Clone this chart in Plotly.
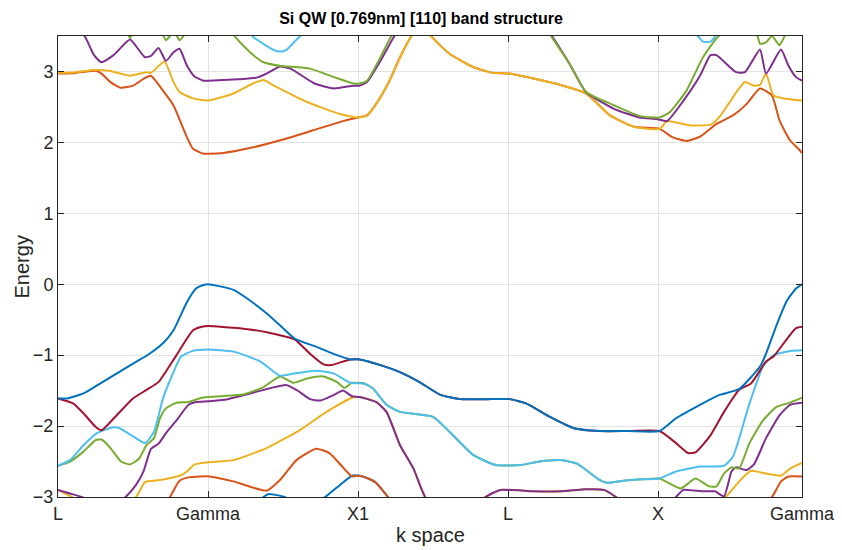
import plotly.graph_objects as go

# ---------------- data ----------------
tick_k = [0, 1, 2, 3, 4, 4.96]
tick_labels = ["L", "Gamma", "X1", "L", "X", "Gamma"]

# valence bands (lowest first, plotted in that order)
k_v8 = [0, 1.2, 1.37, 1.40, 1.45, 1.51, 1.65, 1.78, 1.88, 1.96, 2.01, 2.08, 2.12, 2.20, 2.35, 3.0, 4.0, 4.96]
E_v8 = [-3.6, -3.3, -3.0, -2.96, -2.97, -3.0, -3.15, -3.0, -2.83, -2.70, -2.70, -2.75, -2.80, -3.0, -3.4, -3.7, -3.7, -3.5]

k_v7 = [0, 0.6, 0.74, 0.81, 0.88, 1.01, 1.17, 1.39, 1.48, 1.59, 1.72, 1.81, 1.96, 2.01, 2.08, 2.12, 2.20, 2.35, 3.0, 4.0, 4.6, 4.76, 4.82, 4.87, 4.96]
E_v7 = [-3.5, -3.3, -3.02, -2.77, -2.72, -2.71, -2.78, -2.91, -2.76, -2.48, -2.32, -2.38, -2.71, -2.70, -2.75, -2.80, -3.0, -3.4, -3.6, -3.5, -3.3, -3.0, -2.78, -2.71, -2.71]

k_v6 = [0, 0.10, 0.30, 0.52, 0.58, 0.68, 0.81, 0.86, 0.91, 1.0, 1.17, 1.39, 1.61, 1.79, 1.96, 2.01, 2.12, 2.19, 2.28, 2.37, 2.45, 2.65, 2.85, 2.95, 3.17, 3.35, 3.52, 3.64, 3.72, 3.9, 4.1, 4.3, 4.45, 4.55, 4.62, 4.72, 4.82, 4.88, 4.96]
E_v6 = [-2.90, -3.01, -3.3, -3.0, -2.79, -2.76, -2.70, -2.64, -2.54, -2.51, -2.48, -2.31, -2.06, -1.80, -1.60, -1.59, -1.66, -1.80, -2.27, -2.60, -3.01, -3.4, -3.0, -2.90, -2.92, -2.92, -2.89, -2.90, -3.0, -3.3, -3.4, -3.2, -3.0, -2.76, -2.63, -2.67, -2.70, -2.60, -2.52]

k_v5 = [0, 0.08, 0.17, 0.30, 0.45, 0.52, 0.57, 0.62, 0.67, 0.72, 0.79, 0.87, 0.92, 1.0, 1.11, 1.28, 1.52, 1.59, 1.68, 1.75, 1.84, 1.90, 1.96, 2.01, 2.12, 2.19, 2.28, 2.37, 2.45, 2.65, 2.85, 2.95, 3.17, 3.35, 3.52, 3.64, 3.72, 3.90, 4.05, 4.12, 4.17, 4.24, 4.30, 4.38, 4.44, 4.49, 4.52, 4.59, 4.64, 4.72, 4.81, 4.88, 4.96]
E_v5 = [-2.90, -2.95, -3.01, -3.2, -3.0, -2.83, -2.64, -2.32, -2.25, -2.10, -1.92, -1.70, -1.66, -1.65, -1.63, -1.54, -1.42, -1.49, -1.62, -1.64, -1.56, -1.50, -1.58, -1.59, -1.66, -1.80, -2.27, -2.60, -3.01, -3.4, -3.0, -2.90, -2.92, -2.92, -2.89, -2.90, -3.0, -3.3, -3.2, -3.0, -2.90, -2.91, -2.92, -2.92, -2.99, -2.64, -2.58, -2.62, -2.54, -2.17, -1.85, -1.70, -1.67]

k_v4 = [0, 0.08, 0.17, 0.25, 0.29, 0.35, 0.42, 0.48, 0.54, 0.59, 0.64, 0.68, 0.72, 0.79, 0.87, 0.96, 1.0, 1.24, 1.37, 1.48, 1.57, 1.66, 1.77, 1.86, 1.91, 1.96, 2.04, 2.10, 2.19, 2.28, 2.50, 2.61, 2.77, 2.92, 3.08, 3.21, 3.35, 3.46, 3.61, 3.66, 3.77, 3.90, 4.01, 4.15, 4.25, 4.34, 4.39, 4.44, 4.49, 4.54, 4.61, 4.70, 4.79, 4.88, 4.96]
E_v4 = [-2.56, -2.50, -2.36, -2.20, -2.19, -2.31, -2.50, -2.54, -2.46, -2.27, -2.17, -1.89, -1.75, -1.67, -1.66, -1.60, -1.59, -1.55, -1.45, -1.30, -1.39, -1.33, -1.30, -1.38, -1.46, -1.39, -1.40, -1.47, -1.70, -1.80, -1.87, -2.08, -2.41, -2.55, -2.55, -2.50, -2.48, -2.53, -2.76, -2.80, -2.77, -2.75, -2.74, -2.88, -2.74, -2.85, -2.85, -2.67, -2.58, -2.60, -2.24, -1.92, -1.73, -1.67, -1.60]

k_v3 = [0, 0.08, 0.17, 0.26, 0.36, 0.41, 0.49, 0.58, 0.64, 0.70, 0.77, 0.82, 0.90, 1.0, 1.17, 1.35, 1.48, 1.57, 1.72, 1.84, 1.95, 2.04, 2.10, 2.19, 2.28, 2.50, 2.61, 2.77, 2.92, 3.08, 3.21, 3.35, 3.46, 3.61, 3.66, 3.77, 3.90, 4.01, 4.12, 4.28, 4.44, 4.50, 4.61, 4.70, 4.77, 4.88, 4.96]
E_v3 = [-2.56, -2.48, -2.27, -2.10, -2.02, -2.03, -2.13, -2.24, -2.08, -1.61, -1.24, -1.02, -0.94, -0.92, -0.95, -1.09, -1.29, -1.26, -1.22, -1.26, -1.39, -1.40, -1.47, -1.70, -1.80, -1.87, -2.08, -2.41, -2.55, -2.55, -2.50, -2.48, -2.53, -2.76, -2.80, -2.77, -2.75, -2.74, -2.64, -2.57, -2.56, -2.43, -1.68, -1.16, -1.00, -0.94, -0.93]

k_v2 = [0, 0.10, 0.17, 0.25, 0.29, 0.39, 0.50, 0.59, 0.67, 0.71, 0.79, 0.90, 0.96, 1.0, 1.21, 1.40, 1.52, 1.58, 1.68, 1.77, 1.82, 1.95, 2.01, 2.15, 2.28, 2.41, 2.55, 2.68, 2.86, 3.01, 3.12, 3.28, 3.44, 3.61, 3.80, 4.01, 4.12, 4.20, 4.25, 4.35, 4.44, 4.54, 4.62, 4.72, 4.77, 4.86, 4.92, 4.96]
E_v2 = [-1.61, -1.68, -1.82, -2.01, -2.06, -1.85, -1.61, -1.49, -1.38, -1.26, -1.00, -0.65, -0.60, -0.59, -0.62, -0.68, -0.74, -0.78, -0.98, -1.13, -1.14, -1.06, -1.06, -1.14, -1.24, -1.38, -1.56, -1.62, -1.62, -1.62, -1.68, -1.87, -2.03, -2.07, -2.07, -2.07, -2.24, -2.38, -2.37, -2.13, -1.80, -1.49, -1.40, -1.09, -1.02, -0.77, -0.62, -0.60]

k_v1 = [0, 0.06, 0.17, 0.28, 0.39, 0.50, 0.61, 0.71, 0.77, 0.86, 0.92, 0.97, 1.0, 1.08, 1.17, 1.28, 1.39, 1.50, 1.58, 1.72, 1.86, 1.95, 2.01, 2.15, 2.28, 2.41, 2.55, 2.68, 2.86, 3.01, 3.12, 3.28, 3.44, 3.61, 3.80, 4.01, 4.12, 4.28, 4.41, 4.54, 4.68, 4.72, 4.79, 4.86, 4.92, 4.96]
E_v1 = [-1.61, -1.61, -1.54, -1.40, -1.26, -1.12, -0.98, -0.81, -0.65, -0.25, -0.06, -0.01, 0.0, -0.03, -0.08, -0.23, -0.41, -0.62, -0.77, -0.88, -1.00, -1.06, -1.06, -1.14, -1.24, -1.38, -1.56, -1.62, -1.62, -1.62, -1.68, -1.87, -2.03, -2.07, -2.07, -2.07, -1.89, -1.70, -1.56, -1.48, -1.16, -0.98, -0.58, -0.23, -0.06, 0.0]

# conduction bands
k_c1 = [0, 0.12, 0.25, 0.29, 0.35, 0.42, 0.50, 0.58, 0.62, 0.70, 0.77, 0.86, 0.90, 0.97, 1.0, 1.1, 1.3, 1.5, 1.7, 1.9, 2.0, 2.06, 2.12, 2.21, 2.28, 2.35, 2.42, 2.49, 2.61, 2.77, 2.90, 3.01, 3.17, 3.35, 3.52, 3.68, 3.84, 4.01, 4.10, 4.19, 4.28, 4.39, 4.50, 4.59, 4.68, 4.76, 4.81, 4.88, 4.94, 4.96]
E_c1 = [2.97, 2.98, 3.01, 2.97, 2.85, 2.77, 2.80, 2.91, 2.94, 2.73, 2.52, 2.07, 1.91, 1.84, 1.84, 1.85, 1.93, 2.04, 2.17, 2.30, 2.35, 2.38, 2.54, 2.87, 3.20, 3.48, 3.70, 3.49, 3.25, 3.06, 2.98, 2.97, 2.90, 2.81, 2.69, 2.38, 2.22, 2.19, 2.07, 2.02, 2.08, 2.26, 2.38, 2.54, 2.76, 2.66, 2.31, 2.03, 1.90, 1.85]

k_c2 = [0, 0.12, 0.24, 0.34, 0.48, 0.59, 0.62, 0.71, 0.77, 0.81, 0.90, 1.0, 1.17, 1.30, 1.37, 1.44, 1.66, 1.88, 2.0, 2.06, 2.12, 2.21, 2.28, 2.35, 2.42, 2.49, 2.61, 2.77, 2.90, 3.01, 3.17, 3.35, 3.52, 3.68, 3.84, 4.01, 4.06, 4.21, 4.35, 4.41, 4.54, 4.58, 4.64, 4.68, 4.72, 4.77, 4.84, 4.96]
E_c2 = [2.98, 2.99, 3.02, 3.01, 2.94, 2.99, 2.98, 3.14, 2.85, 2.71, 2.62, 2.59, 2.69, 2.83, 2.88, 2.80, 2.57, 2.40, 2.35, 2.38, 2.54, 2.87, 3.20, 3.48, 3.70, 3.49, 3.25, 3.06, 2.98, 2.97, 2.90, 2.81, 2.69, 2.38, 2.22, 2.19, 2.30, 2.24, 2.25, 2.36, 2.76, 2.85, 2.80, 2.81, 2.97, 2.66, 2.62, 2.59]

k_c3 = [0, 0.18, 0.24, 0.29, 0.37, 0.48, 0.54, 0.58, 0.62, 0.67, 0.72, 0.77, 0.81, 0.86, 0.91, 0.97, 1.0, 1.20, 1.32, 1.39, 1.48, 1.55, 1.71, 1.84, 1.97, 2.01, 2.06, 2.15, 2.24, 2.35, 3.20, 3.30, 3.41, 3.52, 3.71, 3.88, 3.99, 4.06, 4.17, 4.28, 4.35, 4.39, 4.52, 4.58, 4.68, 4.72, 4.82, 4.87, 4.92, 4.96]
E_c3 = [3.90, 3.49, 3.23, 3.13, 3.23, 3.45, 3.30, 3.20, 3.22, 3.33, 3.15, 3.27, 3.32, 3.08, 2.93, 2.87, 2.87, 2.89, 2.91, 2.97, 3.07, 3.04, 2.83, 2.76, 2.80, 2.80, 2.85, 3.15, 3.49, 3.80, 3.80, 3.48, 3.11, 2.71, 2.47, 2.35, 2.33, 2.30, 2.59, 2.94, 3.23, 3.23, 2.99, 2.99, 3.31, 2.97, 3.31, 3.08, 2.92, 2.87]

k_c4 = [0, 0.45, 0.48, 0.51, 0.62, 0.70, 0.72, 0.75, 0.77, 0.79, 0.81, 0.84, 0.95, 1.10, 1.18, 1.28, 1.37, 1.48, 1.68, 1.84, 1.97, 2.01, 2.06, 2.15, 2.22, 2.35, 3.20, 3.29, 3.41, 3.52, 3.71, 3.88, 4.01, 4.08, 4.19, 4.30, 4.40, 4.55, 4.66, 4.68, 4.72, 4.76, 4.81, 4.85, 4.96]
E_c4 = [3.90, 3.60, 3.47, 3.60, 3.70, 3.51, 3.44, 3.51, 3.56, 3.51, 3.44, 3.51, 3.90, 3.80, 3.49, 3.27, 3.13, 3.08, 3.04, 2.92, 2.83, 2.83, 2.87, 3.20, 3.49, 3.80, 3.80, 3.49, 3.11, 2.71, 2.52, 2.37, 2.35, 2.43, 2.73, 3.20, 3.49, 3.70, 3.52, 3.39, 3.41, 3.50, 3.37, 3.52, 3.80]

k_c5 = [0, 1.20, 1.30, 1.44, 1.48, 1.52, 1.61, 1.80, 4.10, 4.27, 4.30, 4.35, 4.38, 4.50, 4.96]
E_c5 = [4.00, 3.80, 3.49, 3.30, 3.28, 3.30, 3.49, 3.80, 3.80, 3.49, 3.42, 3.42, 3.49, 3.80, 4.00]

bands = [
    (k_v8, E_v8, "#0072BD"),
    (k_v7, E_v7, "#D95319"),
    (k_v6, E_v6, "#EDB120"),
    (k_v5, E_v5, "#7E2F8E"),
    (k_v4, E_v4, "#77AC30"),
    (k_v3, E_v3, "#4DBEEE"),
    (k_v2, E_v2, "#A2142F"),
    (k_v1, E_v1, "#0072BD"),
    (k_c1, E_c1, "#D95319"),
    (k_c2, E_c2, "#EDB120"),
    (k_c3, E_c3, "#7E2F8E"),
    (k_c4, E_c4, "#77AC30"),
    (k_c5, E_c5, "#4DBEEE"),
]

fig = go.Figure()
for k, E, c in bands:
    fig.add_trace(go.Scatter(x=k, y=E, mode="lines",
                             line=dict(color=c, width=2, shape="spline", smoothing=0.5),
                             showlegend=False, hoverinfo="skip"))

font_family = "Liberation Sans, Arial, Helvetica, sans-serif"
axis_common = dict(
    showline=True, linecolor="#262626", linewidth=1, mirror="ticks",
    ticks="inside", ticklen=6, tickcolor="#262626", tickwidth=1,
    showgrid=True, gridcolor="#e3e3e3", gridwidth=1, zeroline=False,
    tickfont=dict(family=font_family, size=18, color="#262626"),
)

fig.update_layout(
    width=842, height=550,
    margin=dict(l=58, r=40, t=36, b=53, autoexpand=False),
    paper_bgcolor="white", plot_bgcolor="white",
    title=dict(text="<b>Si QW [0.769nm] [110] band structure</b>",
               x=0.5, xanchor="center", y=0.967, yanchor="middle",
               font=dict(family=font_family, size=16, color="black")),
    xaxis=dict(range=[0, 4.96], tickvals=tick_k, ticktext=tick_labels, **axis_common),
    yaxis=dict(range=[-3, 3.5], tickvals=[-3, -2, -1, 0, 1, 2, 3], **axis_common),
    annotations=[
        dict(text="k space", xref="paper", yref="paper", x=0.5, y=-0.082,
             xanchor="center", yanchor="middle", showarrow=False,
             font=dict(family=font_family, size=20, color="#262626")),
        dict(text="Energy", xref="paper", yref="paper", x=-0.0484, y=0.5,
             xanchor="center", yanchor="middle", textangle=-90, showarrow=False,
             font=dict(family=font_family, size=20, color="#262626")),
    ],
)

fig.write_html("out.html")
